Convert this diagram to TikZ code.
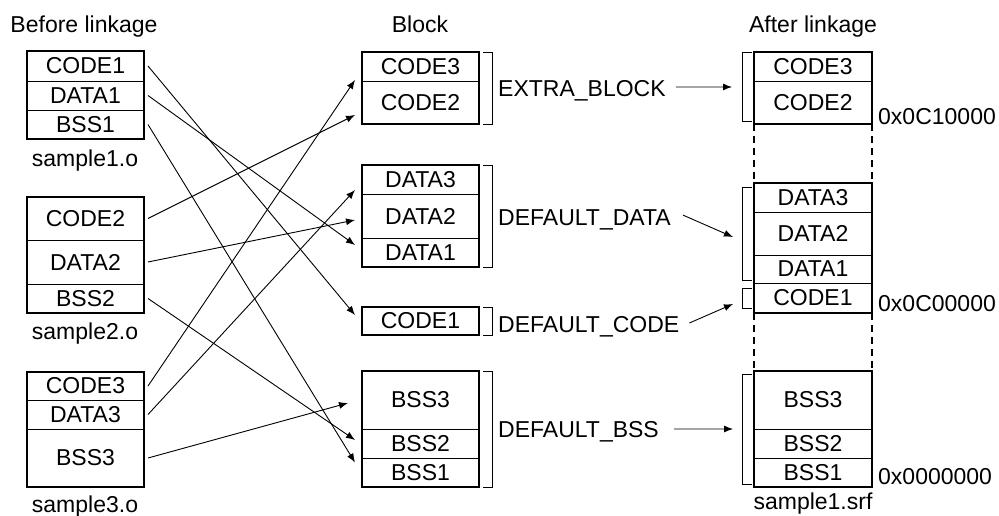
\documentclass[tikz,border=0pt]{standalone}
\usepackage{fontspec}
\setmainfont{Liberation Sans}
\usetikzlibrary{arrows.meta, positioning, calc}

\begin{document}
\begin{tikzpicture}[
    x=1pt, y=-1pt,
    seg/.style={draw, line width=0.9pt, minimum width=117pt, inner sep=0pt, outer sep=0pt, font=\fontsize{23}{27}\selectfont},
    frame/.style={line width=1.9pt},
    arrow/.style={-{Latex[length=9pt, width=7pt]}, line width=0.9pt},
    brkt/.style={line width=0.9pt},
    gap/.style={line width=1.6pt, dash pattern=on 7pt off 5pt},
    lbl/.style={font=\fontsize{23}{27}\selectfont, inner sep=0pt, text depth=0pt}
]
    \useasboundingbox (0,0) rectangle (999,516);

    % Column titles
    \node[lbl, anchor=base] (t_before) at (84,33) {Before linkage};
    \node[lbl, anchor=base] (t_block) at (420,33) {Block};
    \node[lbl, anchor=base] (t_after) at (813,33) {After linkage};

    % ===================== BEFORE LINKAGE =====================
    % sample1.o
    \node[seg, minimum height=30pt, anchor=north west] (s1_code1) at (27,51) {CODE1};
    \node[seg, minimum height=29pt, below=0pt of s1_code1] (s1_data1) {DATA1};
    \node[seg, minimum height=29pt, below=0pt of s1_data1] (s1_bss1) {BSS1};
    \draw[frame] (s1_code1.north west) rectangle (s1_bss1.south east);
    \node[lbl, anchor=base] (n_s1) at (85,167) {sample1.o};

    % sample2.o
    \node[seg, minimum height=43pt, anchor=north west] (s2_code2) at (27,197) {CODE2};
    \node[seg, minimum height=44pt, below=0pt of s2_code2] (s2_data2) {DATA2};
    \node[seg, minimum height=29pt, below=0pt of s2_data2] (s2_bss2) {BSS2};
    \draw[frame] (s2_code2.north west) rectangle (s2_bss2.south east);
    \node[lbl, anchor=base] (n_s2) at (85,339) {sample2.o};

    % sample3.o
    \node[seg, minimum height=28pt, anchor=north west] (s3_code3) at (27,372) {CODE3};
    \node[seg, minimum height=29pt, below=0pt of s3_code3] (s3_data3) {DATA3};
    \node[seg, minimum height=58pt, below=0pt of s3_data3] (s3_bss3) {BSS3};
    \draw[frame] (s3_code3.north west) rectangle (s3_bss3.south east);
    \node[lbl, anchor=base] (n_s3) at (85,512) {sample3.o};

    % ===================== BLOCKS =====================
    % EXTRA_BLOCK
    \node[seg, minimum height=29pt, anchor=north west] (m_code3) at (362,52) {CODE3};
    \node[seg, minimum height=43pt, below=0pt of m_code3] (m_code2) {CODE2};
    \draw[frame] (m_code3.north west) rectangle (m_code2.south east);
    \draw[brkt] ([xshift=4pt]m_code3.north east) -- ++(9,0) |- ([xshift=4pt]m_code2.south east);
    \node[lbl, anchor=base west] (l_extra) at (498,97) {EXTRA\_BLOCK};

    % DEFAULT_DATA
    \node[seg, minimum height=29pt, anchor=north west] (m_data3) at (362,165) {DATA3};
    \node[seg, minimum height=44pt, below=0pt of m_data3] (m_data2) {DATA2};
    \node[seg, minimum height=29pt, below=0pt of m_data2] (m_data1) {DATA1};
    \draw[frame] (m_data3.north west) rectangle (m_data1.south east);
    \draw[brkt] ([xshift=4pt]m_data3.north east) -- ++(9,0) |- ([xshift=4pt]m_data1.south east);
    \node[lbl, anchor=base west] (l_data) at (498,225) {DEFAULT\_DATA};

    % DEFAULT_CODE
    \node[seg, minimum height=28pt, anchor=north west] (m_code1) at (362,307) {CODE1};
    \draw[frame] (m_code1.north west) rectangle (m_code1.south east);
    \draw[brkt] ([xshift=4pt]m_code1.north east) -- ++(9,0) |- ([xshift=4pt]m_code1.south east);
    \node[lbl, anchor=base west] (l_code) at (498,332) {DEFAULT\_CODE};

    % DEFAULT_BSS
    \node[seg, minimum height=58pt, anchor=north west] (m_bss3) at (362,371) {BSS3};
    \node[seg, minimum height=29pt, below=0pt of m_bss3] (m_bss2) {BSS2};
    \node[seg, minimum height=29pt, below=0pt of m_bss2] (m_bss1) {BSS1};
    \draw[frame] (m_bss3.north west) rectangle (m_bss1.south east);
    \draw[brkt] ([xshift=4pt]m_bss3.north east) -- ++(9,0) |- ([xshift=4pt]m_bss1.south east);
    \node[lbl, anchor=base west] (l_bss) at (498,437) {DEFAULT\_BSS};

    % ===================== AFTER LINKAGE =====================
    \node[seg, minimum width=118pt, minimum height=29pt, anchor=north west] (r_code3) at (754,52) {CODE3};
    \node[seg, minimum width=118pt, minimum height=43pt, below=0pt of r_code3] (r_code2) {CODE2};
    \draw[frame] (r_code3.north west) rectangle (r_code2.south east);
    \draw[brkt] ([xshift=-2pt]r_code3.north west) -- ++(-10,0) |- ([xshift=-2pt, yshift=3pt]r_code2.south west);

    \node[seg, minimum width=118pt, minimum height=29pt, anchor=north west] (r_data3) at (754,183) {DATA3};
    \node[seg, minimum width=118pt, minimum height=43pt, below=0pt of r_data3] (r_data2) {DATA2};
    \node[seg, minimum width=118pt, minimum height=28pt, below=0pt of r_data2] (r_data1) {DATA1};
    \node[seg, minimum width=118pt, minimum height=30pt, below=0pt of r_data1] (r_code1) {CODE1};
    \draw[frame] (r_data3.north west) rectangle (r_code1.south east);
    \draw[brkt] ([xshift=-2pt, yshift=-4pt]r_data3.north west) -- ++(-10,0) |- ([xshift=-2pt, yshift=3pt]r_data1.south west);
    \draw[brkt] ([xshift=-2pt, yshift=-5pt]r_code1.north west) -- ++(-10,0) |- ([xshift=-2pt, yshift=5pt]r_code1.south west);

    \node[seg, minimum width=118pt, minimum height=58pt, anchor=north west] (r_bss3) at (754,371) {BSS3};
    \node[seg, minimum width=118pt, minimum height=29pt, below=0pt of r_bss3] (r_bss2) {BSS2};
    \node[seg, minimum width=118pt, minimum height=29pt, below=0pt of r_bss2] (r_bss1) {BSS1};
    \draw[frame] (r_bss3.north west) rectangle (r_bss1.south east);
    \draw[brkt] ([xshift=-2pt, yshift=-3pt]r_bss3.north west) -- ++(-10,0) |- ([xshift=-2pt, yshift=3pt]r_bss1.south west);

    % Gaps in the address space
    \draw[gap] (r_code2.south west) -- (r_data3.north west);
    \draw[gap] (r_code2.south east) -- (r_data3.north east);
    \draw[gap] (r_code1.south west) -- (r_bss3.north west);
    \draw[gap] (r_code1.south east) -- (r_bss3.north east);

    % Addresses
    \node[lbl, anchor=base west] (h_extra) at (878,125) {0x0C10000};
    \node[lbl, anchor=base west] (h_code) at (878,311) {0x0C00000};
    \node[lbl, anchor=base west] (h_bss) at (878,484) {0x0000000};
    \node[lbl, anchor=base] (n_srf) at (813,509) {sample1.srf};

    % Sections into blocks
    \draw[arrow] ([xshift=4pt]s1_code1.east) -- ([xshift=-7pt, yshift=6pt]m_code1.west);
    \draw[arrow] ([xshift=4pt]s1_data1.east) -- ([xshift=-7pt, yshift=7.5pt]m_data1.west);
    \draw[arrow] ([xshift=4pt]s1_bss1.east) -- ([xshift=-7pt, yshift=10pt]m_bss1.west);
    \draw[arrow] ([xshift=4pt]s2_code2.east) -- ([xshift=-7pt, yshift=-12.5pt]m_code2.west);
    \draw[arrow] ([xshift=4pt]s2_data2.east) -- ([xshift=-7pt, yshift=-4pt]m_data2.west);
    \draw[arrow] ([xshift=4pt]s2_bss2.east) -- ([xshift=-7pt, yshift=3.5pt]m_bss2.west);
    \draw[arrow] ([xshift=4pt]s3_code3.east) -- ([xshift=-7pt, yshift=-13.5pt]m_code3.west);
    \draw[arrow] ([xshift=4pt]s3_data3.east) -- ([xshift=-7pt, yshift=-10.5pt]m_data3.west);
    \draw[arrow] ([xshift=4pt]s3_bss3.east) -- ([xshift=-14pt, yshift=-3pt]m_bss3.west);

    % Blocks into the linked image
    \coordinate (e_extra) at (732,87);
    \coordinate (e_data) at (733,237);
    \coordinate (e_code) at (733,304);
    \coordinate (e_bss) at (733,429);
    \draw[arrow] ([xshift=10pt, yshift=2pt]l_extra.east) -- (e_extra);
    \draw[arrow] ([xshift=12pt, yshift=2pt]l_data.east) -- (e_data);
    \draw[arrow] ([xshift=10pt, yshift=1pt]l_code.east) -- (e_code);
    \draw[arrow] ([xshift=15pt]l_bss.east) -- (e_bss);

\end{tikzpicture}
\end{document}
